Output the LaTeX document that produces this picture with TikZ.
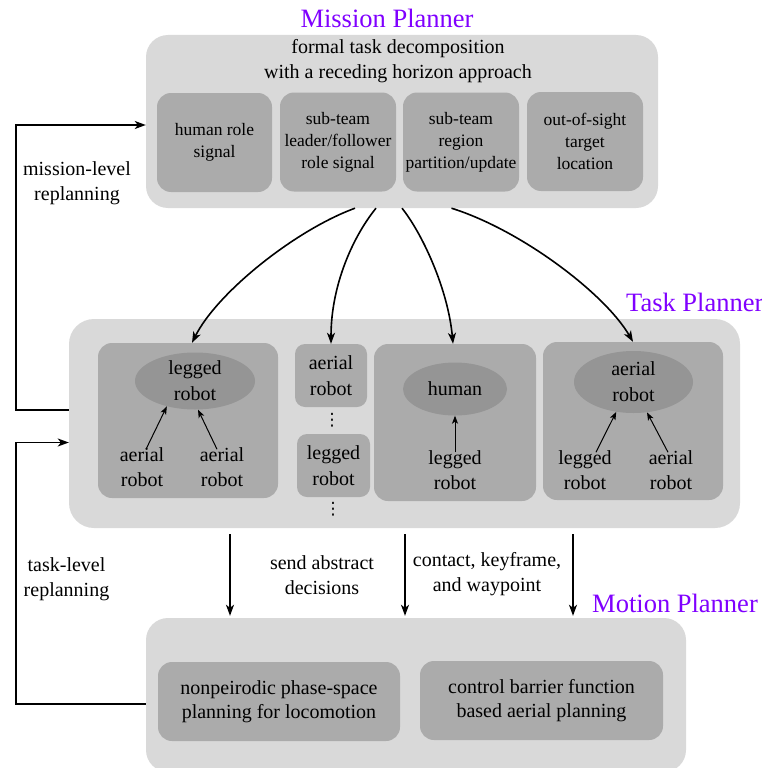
\documentclass[tikz,border=0pt]{standalone}
\usepackage{fontspec}
\setmainfont{Liberation Serif}
\newfontfamily\dotsfont{DejaVu Sans}
\usetikzlibrary{arrows.meta,shapes.geometric}
\definecolor{layergray}{HTML}{D9D9D9}
\definecolor{blockgray}{HTML}{ABABAB}
\definecolor{agentgray}{HTML}{959595}
\definecolor{plannerviolet}{HTML}{8000FF}
\begin{document}
\begin{tikzpicture}[x=1pt, y=-1pt,
    layer/.style={fill=layergray, rounded corners=22pt, inner sep=0pt},
    block/.style={fill=blockgray, rounded corners=14pt, align=center, inner sep=2pt, font=\fontsize{17.5}{22}\selectfont},
    agent/.style={ellipse, fill=agentgray, align=center, inner sep=0pt, font=\fontsize{20}{26}\selectfont},
    txt/.style={align=center, inner sep=1pt, font=\fontsize{20}{25}\selectfont},
    more/.style={inner sep=0pt, font=\dotsfont\fontsize{17}{17}\selectfont},
    planner/.style={text=plannerviolet, inner sep=0pt, font=\fontsize{26.5}{30}\selectfont},
    flow/.style={-{Stealth[length=11pt,width=8pt,inset=3pt]}, line width=1.6pt},
    link/.style={-{Stealth[length=8pt,width=6pt,inset=2pt]}, line width=1pt}]
    \useasboundingbox (0,0) rectangle (762,768);

    \node[planner] (missiontitle) at (387,18) {Mission Planner};
    \node[layer, minimum width=512pt, minimum height=173pt] (mission) at (402,121.5) {};
    \node[txt] (missiongoal) at (398,61) {formal task decomposition\\with a receding horizon approach};
    \node[block, minimum width=115pt, minimum height=99pt] (humansig) at (214.5,142.5) {human role\\signal};
    \node[block, minimum width=116pt, minimum height=99pt] (leadsig) at (338,142) {sub-team\\leader/follower\\role signal};
    \node[block, minimum width=116pt, minimum height=99pt] (regionsig) at (461,142) {sub-team\\region\\partition/update};
    \node[block, minimum width=116pt, minimum height=99pt] (targetsig) at (585,141.5) {out-of-sight\\target\\location};

    \node[planner, anchor=west] (tasktitle) at (626,302) {Task Planner};
    \node[layer, minimum width=671pt, minimum height=209pt, rounded corners=25pt] (task) at (404.5,423.5) {};
    \node[block, minimum width=180pt, minimum height=155pt] (legbox) at (188,420.5) {};
    \node[agent, minimum width=120pt, minimum height=57pt] (legell) at (195,381) {legged\\robot};
    \node[txt] (legaer1) at (142,467) {aerial\\robot};
    \node[txt] (legaer2) at (222,467) {aerial\\robot};
    \draw[link] ([xshift=4pt,yshift=-3pt]legaer1.north) -- (legell.222);
    \draw[link] ([xshift=-5pt,yshift=-3pt]legaer2.north) -- (legell.276);

    \node[block, minimum width=72pt, minimum height=63pt, rounded corners=10pt, font=\fontsize{20}{26}\selectfont] (aersmall) at (331,375.5) {aerial\\robot};
    \node[more] (dots1) at (332,420) {⋮};
    \node[block, minimum width=73pt, minimum height=63pt, rounded corners=10pt, font=\fontsize{20}{26}\selectfont] (legsmall) at (333.5,465.5) {legged\\robot};
    \node[more] (dots2) at (333,509) {⋮};

    \node[block, minimum width=162pt, minimum height=157pt] (humbox) at (455,422.5) {};
    \node[agent, minimum width=104pt, minimum height=53pt] (humell) at (455,389) {human};
    \node[txt] (humleg) at (455,470) {legged\\robot};
    \draw[link] ([yshift=-3pt]humleg.north) -- (humell.south);

    \node[block, minimum width=180pt, minimum height=158pt] (aerbox) at (633,421) {};
    \node[agent, minimum width=119pt, minimum height=62pt] (aerell) at (633.5,382) {aerial\\robot};
    \node[txt] (aerleg) at (585,470) {legged\\robot};
    \node[txt] (aeraer) at (671,470) {aerial\\robot};
    \draw[link] ([xshift=11pt,yshift=-3pt]aerleg.north) -- (aerell.240);
    \draw[link] ([xshift=-3pt,yshift=-3pt]aeraer.north) -- (aerell.294);

    \draw[flow] ([xshift=-47pt]mission.south) .. controls +(-60,22) and +(25,-50) .. ([xshift=4pt]legbox.north);
    \draw[flow] ([xshift=-26pt]mission.south) .. controls +(-22,27) and +(0,-60) .. (aersmall.north);
    \draw[flow] (mission.south) .. controls +(20,25) and +(-5,-55) .. ([xshift=-2pt]humbox.north);
    \draw[flow] ([xshift=49.5pt]mission.south) .. controls +(70,22) and +(-28,-48) .. (aerbox.north);

    \node[planner, anchor=west] (motiontitle) at (592,603) {Motion Planner};
    \node[layer, minimum width=540pt, minimum height=154pt] (motion) at (416,695) {};
    \node[block, minimum width=242pt, minimum height=79pt, font=\fontsize{20}{24}\selectfont] (locoplan) at (279,701.5) {nonpeirodic phase-space\\planning for locomotion};
    \node[block, minimum width=243pt, minimum height=79pt, font=\fontsize{20}{24}\selectfont] (aerplan) at (541.5,700.5) {control barrier function\\based aerial planning};

    \draw[flow] ([xshift=-174.5pt,yshift=-6pt]task.south) -- ([xshift=-186pt,yshift=2pt]motion.north);
    \draw[flow] ([xshift=0.5pt,yshift=-6pt]task.south) -- ([xshift=-11pt,yshift=2pt]motion.north);
    \draw[flow] ([xshift=168.5pt,yshift=-6pt]task.south) -- ([xshift=157pt,yshift=2pt]motion.north);
    \node[txt] (abstractlbl) at (322,575) {send abstract\\decisions};
    \node[txt] (contactlbl) at (487,574) {contact, keyframe,\\and waypoint};

    \draw[flow] ([yshift=13.5pt]task.west) -- ++(-53,0) |- ([yshift=-3.5pt]mission.west);
    \node[txt] (missionloop) at (77,183) {mission-level\\replanning};
    \draw[flow] ([yshift=-9pt]motion.west) -- ++(-130,0) |- ([yshift=-19pt]task.west);
    \node[txt] (taskloop) at (66.5,579) {task-level\\replanning};
\end{tikzpicture}
\end{document}
